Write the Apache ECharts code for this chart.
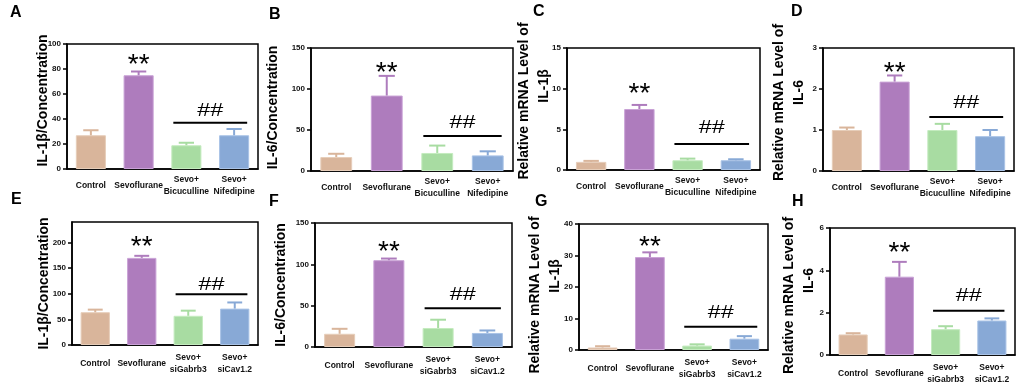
<!DOCTYPE html>
<html>
<head>
<meta charset="utf-8">
<script src="https://cdn.jsdelivr.net/npm/echarts@6/dist/echarts.min.js"></script>
<style>
html, body { margin: 0; padding: 0; background: #fff; }
#chart { width: 1021px; height: 389px; }
</style>
</head>
<body>
<div id="chart"></div>
<script>
// group names
const groupsTop = ['Control', 'Sevoflurane', 'Sevo+\nBicuculline', 'Sevo+\nNifedipine'];
const groupsBottom = ['Control', 'Sevoflurane', 'Sevo+\nsiGabrb3', 'Sevo+\nsiCav1.2'];
const panelLetters = ['A', 'B', 'C', 'D', 'E', 'F', 'G', 'H'];
const yTitles = [
  'IL-1β/Concentration', 'IL-6/Concentration',
  'Relative mRNA Level of\n{s|IL-1β}', 'Relative mRNA Level of\n{s|IL-6}',
  'IL-1β/Concentration', 'IL-6/Concentration',
  'Relative mRNA Level of\n{s|IL-1β}', 'Relative mRNA Level of\n{s|IL-6}'
];

// mean and error bar (upper SD) of each panel
const meanA = [27, 75, 19, 27];        const sdA = [4, 3, 2, 5];
const meanB = [17, 92, 22, 19];        const sdB = [4, 24, 9, 5];
const meanC = [1.0, 7.5, 1.2, 1.2];    const sdC = [0.12, 0.5, 0.2, 0.12];
const meanD = [1.0, 2.18, 1.0, 0.85];  const sdD = [0.06, 0.15, 0.15, 0.15];
const meanE = [64, 170, 57, 71];       const sdE = [5, 4, 10, 12];
const meanF = [16, 105, 23, 17];       const sdF = [6, 2, 10, 3];
const meanG = [0.8, 29.5, 1.4, 3.6];   const sdG = [0.4, 1.5, 0.4, 0.8];
const meanH = [0.97, 3.7, 1.22, 1.63]; const sdH = [0.06, 0.7, 0.14, 0.1];

// y axis range / tick step
const yMax = [100, 150, 15, 3, 240, 150, 40, 6];
const yStep = [20, 50, 5, 1, 50, 50, 10, 2];

// where the ** / ## marks and the bracket line sit (data units)
const starLevel = [88, 127, 10.0, 2.54, 203, 122, 34.4, 5.1];
const hashLevel = [46, 58.5, 5.2, 1.66, 117, 63, 11.8, 2.79];
const lineLevel = [37, 42.7, 3.2, 1.32, 99, 46.8, 7.4, 2.09];

const means = [meanA, meanB, meanC, meanD, meanE, meanF, meanG, meanH];
const sds = [sdA, sdB, sdC, sdD, sdE, sdF, sdG, sdH];

const barColors = ['#d9b59b', '#ae7cbd', '#a8dca2', '#88a9d6'];
const rimColors = ['#e6cdb9', '#c9a2d6', '#c4ebbf', '#a9c3e6'];

// plot box of each panel (px); shift moves the y title up (+) / down (-),
// sub lifts the second title line
const layout = [
  { left: 67,  top: 44,  width: 191, height: 125, gap: 14, shift: 6,  sub: 0,  lx: 10,  ly: 5 },
  { left: 311, top: 48,  width: 202, height: 123, gap: 28, shift: 2,  sub: 0,  lx: 269, ly: 7 },
  { left: 567, top: 48,  width: 193, height: 122, gap: 13, shift: 8,  sub: 30, lx: 533, ly: 4 },
  { left: 823, top: 48,  width: 191, height: 123, gap: 14, shift: 7,  sub: 20, lx: 791, ly: 4 },
  { left: 72,  top: 222, width: 186, height: 123, gap: 18, shift: 0,  sub: 0,  lx: 11,  ly: 192 },
  { left: 315, top: 223, width: 197, height: 124, gap: 24, shift: 0,  sub: 0,  lx: 269, ly: 194 },
  { left: 579, top: 224, width: 189, height: 126, gap: 14, shift: -8, sub: 38, lx: 535, ly: 194 },
  { left: 830, top: 228, width: 185, height: 127, gap: 11, shift: -4, sub: 30, lx: 792, ly: 194 }
];

const FONT = 'Liberation Sans, Arial, sans-serif';

let grids = [], xAxes = [], yAxes = [], series = [], graphics = [];

layout.forEach(function (p, i) {
  let ticks = [];
  for (let v = 0; v <= yMax[i] + 1e-9; v += yStep[i]) ticks.push(+v.toFixed(4));
  ticks = ticks.filter(v => v <= yMax[i]);

  grids.push({
    left: p.left, top: p.top, width: p.width, height: p.height,
    show: true, borderColor: '#000', borderWidth: 1.5, backgroundColor: 'transparent'
  });
  xAxes.push({
    type: 'category', gridIndex: i,
    data: i < 4 ? groupsTop : groupsBottom,
    axisLine: { lineStyle: { color: '#000', width: 1.5 } },
    axisTick: { alignWithLabel: true, length: 4, lineStyle: { color: '#000', width: 1.5 } },
    axisLabel: {
      interval: 0, color: '#111', fontSize: 8.5, fontWeight: 'bold', fontFamily: FONT,
      lineHeight: 12, verticalAlign: 'middle', margin: i < 4 ? 17 : 19
    }
  });
  const pad = p.shift >= 0 ? [0, 0, 0, 2 * p.shift] : [0, -2 * p.shift, 0, 0];
  yAxes.push({
    type: 'value', gridIndex: i, min: 0, max: yMax[i],
    name: yTitles[i], nameLocation: 'middle', nameRotate: 90, nameGap: p.gap,
    nameMoveOverlap: false,
    nameTextStyle: {
      color: '#000', fontSize: 14, fontWeight: 'bold', fontFamily: FONT, lineHeight: 20, padding: pad,
      rich: {
        s: { color: '#000', fontSize: 14, fontWeight: 'bold', fontFamily: FONT, lineHeight: 20, padding: [0, 0, 0, p.sub] }
      }
    },
    splitLine: { show: false },
    axisLine: { show: true, lineStyle: { color: '#000', width: 1.5 } },
    axisTick: { show: true, length: 4, customValues: ticks, lineStyle: { color: '#000', width: 1.5 } },
    axisLabel: { customValues: ticks, color: '#111', fontSize: 8, fontWeight: 'bold', fontFamily: FONT, margin: 6 }
  });

  series.push({
    type: 'bar', xAxisIndex: i, yAxisIndex: i, barWidth: '63%',
    data: means[i].map((m, j) => ({
      value: m,
      itemStyle: { color: barColors[j], borderColor: rimColors[j], borderWidth: 1 }
    }))
  });

  // error bars
  series.push({
    type: 'custom', xAxisIndex: i, yAxisIndex: i, z: 3,
    data: means[i].map((m, j) => [j, m, m + sds[i][j]]),
    renderItem: function (params, api) {
      const j = api.value(0);
      const base = api.coord([j, api.value(1)]);
      const top = api.coord([j, api.value(2)]);
      const half = api.size([1, 0])[0] * 0.16;
      const st = { stroke: barColors[j], lineWidth: 2 };
      return {
        type: 'group', children: [
          { type: 'line', shape: { x1: base[0], y1: base[1], x2: top[0], y2: top[1] }, style: st },
          { type: 'line', shape: { x1: top[0] - half, y1: top[1], x2: top[0] + half, y2: top[1] }, style: st }
        ]
      };
    }
  });

  // ** / ## marks
  series.push({
    type: 'custom', xAxisIndex: i, yAxisIndex: i, z: 4, silent: true,
    data: [[1, starLevel[i], hashLevel[i], lineLevel[i]]],
    renderItem: function (params, api) {
      const star = api.coord([1, api.value(1)]);
      const a = api.coord([2, api.value(3)]);
      const b = api.coord([3, api.value(3)]);
      const bw = api.size([1, 0])[0] * 0.63;
      const hashY = api.coord([2, api.value(2)])[1];
      const midX = (a[0] + b[0]) / 2;
      return {
        type: 'group', children: [
          { type: 'text', x: star[0], y: star[1] + 6,
            style: { text: '**', fontSize: 28, fontFamily: FONT, fill: '#000', align: 'center', verticalAlign: 'middle' } },
          { type: 'text', x: midX, y: hashY, scaleX: 1.3,
            style: { text: '##', fontSize: 18, fontFamily: FONT, fill: '#000', align: 'center', verticalAlign: 'middle' } },
          { type: 'line', shape: { x1: a[0] - bw / 2 + 2, y1: a[1], x2: b[0] + bw / 2 - 2, y2: b[1] },
            style: { stroke: '#000', lineWidth: 2 } }
        ]
      };
    }
  });

  graphics.push({
    type: 'text', left: p.lx, top: p.ly,
    style: { text: panelLetters[i], fontSize: 16, fontWeight: 'bold', fontFamily: FONT, fill: '#000' }
  });
});

const chart = echarts.init(document.getElementById('chart'));
chart.setOption({
  animation: false,
  backgroundColor: '#fff',
  grid: grids,
  xAxis: xAxes,
  yAxis: yAxes,
  series: series,
  graphic: graphics
});
</script>
</body>
</html>
